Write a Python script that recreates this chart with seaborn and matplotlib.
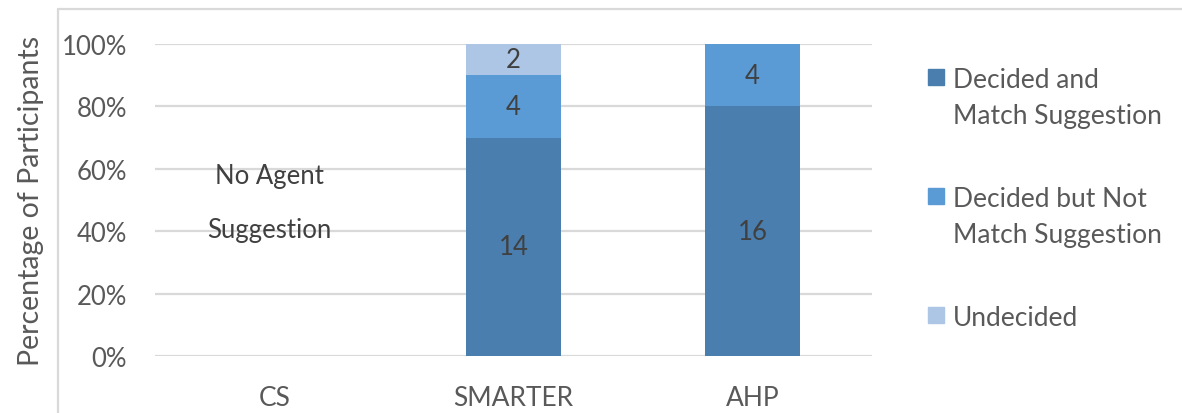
import matplotlib
matplotlib.use("Agg")
import matplotlib.pyplot as plt
from matplotlib.patches import Rectangle
from matplotlib.lines import Line2D
import seaborn as sns
import pandas as pd
import numpy as np

# Participant counts per method (20 participants each)
methods = ["CS", "SMARTER", "AHP"]
match_counts = [0, 14, 16]
not_match_counts = [0, 4, 4]
undecided_counts = [0, 2, 0]
n_participants = 20
series_names = ["Decided and\nMatch Suggestion",
                "Decided but Not\nMatch Suggestion",
                "Undecided"]
colors = ["#4A7EAF", "#5B9BD5", "#ADC6E5"]
y_ticks = [0, 0.2, 0.4, 0.6, 0.8, 1.0]
y_tick_labels = ["0%", "20%", "40%", "60%", "80%", "100%"]

sns.set_theme(style="white")
plt.rcParams["font.family"] = ["Lato", "DejaVu Sans"]

text_gray = "#595959"
grid_gray = "#D9D9D9"

match = np.array(match_counts) / n_participants
not_match = np.array(not_match_counts) / n_participants
undecided = np.array(undecided_counts) / n_participants

df = pd.DataFrame({
    "method": methods,
    "top1": match,
    "top2": match + not_match,
    "top3": match + not_match + undecided,
})

fig = plt.figure(figsize=(11.82, 4.14), dpi=100)
ax = fig.add_axes([155 / 1182, 1 - 357 / 414, (872 - 155) / 1182, (357 - 45) / 414])

# stacked bars drawn back to front as cumulative heights
for col, color in zip(["top3", "top2", "top1"], colors[::-1]):
    sns.barplot(data=df, x="method", y=col, color=color, width=0.4,
                saturation=1, ax=ax, zorder=3, linewidth=0)

ax.set_ylim(0, 1.0)
ax.set_xlim(-0.5, 2.5)
ax.set_yticks(y_ticks)
ax.set_yticklabels(y_tick_labels)
ax.yaxis.grid(True, color=grid_gray, linewidth=1.6, zorder=0)
ax.set_axisbelow(True)
for s in ax.spines.values():
    s.set_visible(False)
ax.tick_params(axis="both", length=0, colors=text_gray)
ax.tick_params(axis="y", pad=20, labelsize=18.5)
ax.tick_params(axis="x", pad=21, labelsize=19)
ax.set_xlabel("")
ax.set_ylabel("Percentage of Participants", fontsize=20.5, color=text_gray)
ax.yaxis.set_label_coords((44 - 155) / 717, 0.5)

# segment value labels
segments = [(match, np.zeros(3), match_counts),
            (not_match, match, not_match_counts),
            (undecided, match + not_match, undecided_counts)]
for heights, bottoms, counts in segments:
    for i, (h, b, c) in enumerate(zip(heights, bottoms, counts)):
        if c > 0:
            ax.text(i, b + h / 2, str(c), ha="center", va="center",
                    fontsize=18.5, color="#404040", zorder=5)

ax.text(-0.02, 0.577, "No Agent", ha="center", va="center", fontsize=18.5, color="#404040")
ax.text(-0.02, 0.405, "Suggestion", ha="center", va="center", fontsize=18.5, color="#404040")

# legend, markers aligned with the first line of each entry
legend_rows = [78, 197, 316]
for name, color, ycen in zip(series_names, colors, legend_rows):
    fig.add_artist(Rectangle((928 / 1182, 1 - (ycen + 8) / 414), 16 / 1182, 16 / 414,
                             transform=fig.transFigure, color=color))
    fig.text(953 / 1182, 1 - (ycen - 10) / 414, name, ha="left", va="top",
             fontsize=19, color=text_gray, linespacing=1.55)

# chart frame
fig.add_artist(Line2D([58 / 1182, 58 / 1182], [0, 1 - 9.5 / 414],
                      transform=fig.transFigure, color=grid_gray, linewidth=1.6))
fig.add_artist(Line2D([58 / 1182, 1], [1 - 9.5 / 414, 1 - 9.5 / 414],
                      transform=fig.transFigure, color=grid_gray, linewidth=1.6))

fig.savefig("out.png", dpi=100)
